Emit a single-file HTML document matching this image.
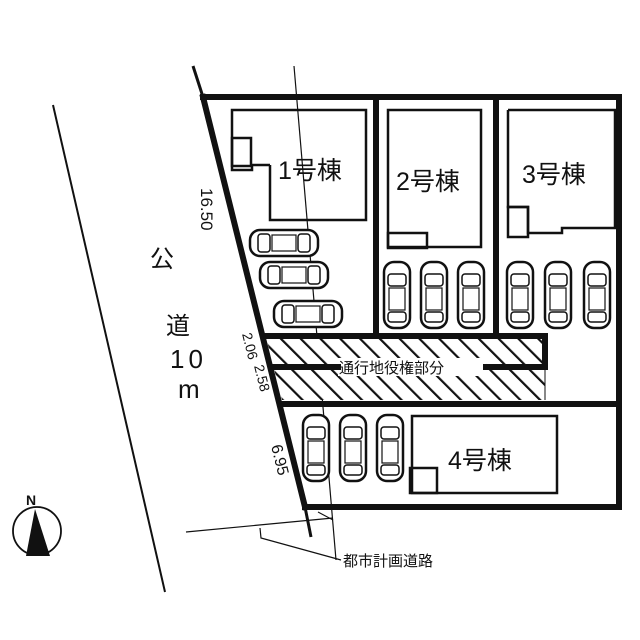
<!DOCTYPE html>
<html><head><meta charset="utf-8"><style>
html,body{margin:0;padding:0;background:#fff}
svg{display:block}
text{font-family:"Liberation Sans","Noto Sans CJK JP",sans-serif;fill:#111}
</style></head><body>
<svg width="640" height="640" viewBox="0 0 640 640" xmlns="http://www.w3.org/2000/svg">
<defs>
<pattern id="h" width="14" height="14" patternUnits="userSpaceOnUse" patternTransform="rotate(-45)">
<rect width="14" height="14" fill="#fff"/><rect x="0" y="0" width="2.2" height="14" fill="#111"/>
</pattern>
<g id="cv">
<rect x="0" y="0" width="26" height="66" rx="10" fill="#fff" stroke="#111" stroke-width="2.5"/>
<rect x="4" y="12" width="18" height="12" rx="3" fill="none" stroke="#111" stroke-width="1.5"/>
<rect x="5" y="26" width="16" height="22" fill="none" stroke="#111" stroke-width="1.2"/>
<rect x="4" y="50" width="18" height="10" rx="3" fill="none" stroke="#111" stroke-width="1.5"/>
</g>
<g id="ch">
<rect x="0" y="0" width="68" height="26" rx="10" fill="#fff" stroke="#111" stroke-width="2.5"/>
<rect x="8" y="4" width="12" height="18" rx="3" fill="none" stroke="#111" stroke-width="1.5"/>
<rect x="22" y="5" width="24" height="16" fill="none" stroke="#111" stroke-width="1.2"/>
<rect x="48" y="4" width="12" height="18" rx="3" fill="none" stroke="#111" stroke-width="1.5"/>
</g>
</defs>
<line x1="53" y1="105" x2="165" y2="592" stroke="#111" stroke-width="2"/>
<line x1="294" y1="66" x2="336" y2="560" stroke="#111" stroke-width="1.2"/>
<polygon points="266,337 545,337 545,400 282,400" fill="url(#h)"/>
<line x1="545" y1="367" x2="545" y2="400" stroke="#111" stroke-width="1"/>
<rect x="338" y="358" width="148" height="18" fill="#fff"/>
<g stroke="#111" stroke-width="6" fill="none" stroke-linecap="square">
<polyline points="203,97 619,97 619,507 305,507"/>
<line x1="203" y1="97" x2="305" y2="507"/>
<line x1="376" y1="97" x2="376" y2="335"/>
<line x1="496" y1="97" x2="496" y2="335"/>
<line x1="264" y1="336" x2="545" y2="336"/>
<line x1="545" y1="336" x2="545" y2="367"/>
<line x1="272" y1="367" x2="338" y2="367"/>
<line x1="486" y1="367" x2="545" y2="367"/>
<line x1="283" y1="404" x2="619" y2="404"/>
</g>
<line x1="193" y1="66" x2="203" y2="97" stroke="#111" stroke-width="3"/>
<line x1="305" y1="507" x2="311" y2="537" stroke="#111" stroke-width="3"/>
<g stroke="#111" stroke-width="2.5" fill="none">
<polyline points="270,165 270,220 366,220 366,110 232,110 232,170 252,170 252,165 270,165"/>
<rect x="232" y="138" width="19" height="28"/>
<rect x="388" y="110" width="93" height="137"/>
<rect x="388" y="233" width="39" height="15"/>
<polyline points="508,110 615,110 615,228 562,228 562,233 528,233 528,207 508,207 508,110"/>
<rect x="508" y="207" width="20" height="30"/>
<rect x="412" y="416" width="145" height="77"/>
<rect x="410" y="468" width="27" height="25"/>
</g>
<use href="#ch" x="250" y="230"/>
<use href="#ch" x="260" y="262"/>
<use href="#ch" x="274" y="301"/>
<use href="#cv" x="384" y="262"/><use href="#cv" x="421" y="262"/><use href="#cv" x="458" y="262"/>
<use href="#cv" x="507" y="262"/><use href="#cv" x="545" y="262"/><use href="#cv" x="584" y="262"/>
<use href="#cv" x="303" y="415"/><use href="#cv" x="340" y="415"/><use href="#cv" x="377" y="415"/>
<text x="278" y="179" font-size="25">1号棟</text>
<text x="396" y="190" font-size="25">2号棟</text>
<text x="522" y="183" font-size="25">3号棟</text>
<text x="448" y="469" font-size="25">4号棟</text>
<text x="339" y="373" font-size="15">通行地役権部分</text>
<text x="343" y="566" font-size="15">都市計画道路</text>
<text x="150" y="267" font-size="24">公</text>
<text x="166" y="334" font-size="24">道</text>
<text x="170" y="368" font-size="26" letter-spacing="4">10</text>
<text x="178" y="398" font-size="26">m</text>
<text font-size="17" transform="translate(201,188) rotate(90)">16.50</text>
<text font-size="14" transform="translate(242,334) rotate(76)">2.06</text>
<text font-size="14" transform="translate(254,366) rotate(76)">2.58</text>
<text font-size="16" transform="translate(271,446) rotate(76)">6.95</text>
<line x1="186" y1="532" x2="333" y2="518" stroke="#111" stroke-width="1.2"/>
<polyline points="260,528 261,538 341,560" fill="none" stroke="#111" stroke-width="1.2"/>
<line x1="318" y1="512" x2="333" y2="520" stroke="#111" stroke-width="1"/>
<text x="26" y="505" font-size="14" font-weight="bold">N</text>
<circle cx="37" cy="531" r="24" fill="none" stroke="#111" stroke-width="1.8"/>
<polygon points="35,509 26,556 50,556" fill="#111"/>
</svg>
</body></html>
